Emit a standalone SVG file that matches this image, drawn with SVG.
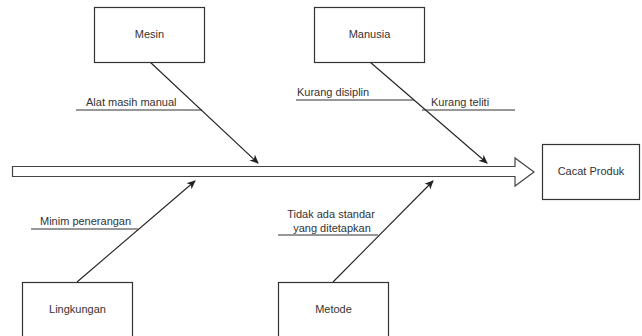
<svg xmlns="http://www.w3.org/2000/svg" width="642" height="336" viewBox="0 0 642 336">
<defs>
<marker id="ah" markerWidth="10" markerHeight="10" refX="8" refY="5" orient="auto" markerUnits="userSpaceOnUse">
<path d="M0,1 L9,5 L0,9 L2.5,5 Z" fill="#222"/>
</marker>
<style>
.box{fill:#fff;stroke:#333;stroke-width:1.2}
.t{font-family:"Liberation Sans",Arial,sans-serif;font-size:11px;fill:#333}
.c{text-anchor:middle}
.ln{stroke:#333;stroke-width:1.1;fill:none}
.ar{stroke:#222;stroke-width:1.1;fill:none;marker-end:url(#ah)}
</style>
</defs>
<rect width="642" height="336" fill="#fff"/>
<g id="spine">
<path d="M12.5,166.5 L515,166.5 L515,158 L534,172 L515,186 L515,176.5 L12.5,176.5 Z" fill="#fff" stroke="#444" stroke-width="1.2"/>
</g>
<g id="connectors">
<line class="ar" x1="150" y1="62" x2="258" y2="163"/>
<line class="ar" x1="370" y1="62" x2="487" y2="163"/>
<line class="ar" x1="77" y1="282" x2="195" y2="181"/>
<line class="ar" x1="333" y1="282" x2="433" y2="181"/>
</g>
<g id="causes">
<line class="ln" x1="76" y1="110" x2="202" y2="110"/>
<text class="t" x="86" y="106">Alat masih manual</text>
<line class="ln" x1="296" y1="100" x2="414" y2="100"/>
<text class="t" x="297" y="96">Kurang disiplin</text>
<line class="ln" x1="422" y1="110" x2="515" y2="110"/>
<text class="t" x="431" y="106">Kurang teliti</text>
<line class="ln" x1="31" y1="229" x2="138" y2="229"/>
<text class="t" x="40" y="225">Minim penerangan</text>
<line class="ln" x1="278" y1="235" x2="378" y2="235"/>
<text class="t c" x="331" y="218">Tidak ada standar</text>
<text class="t c" x="332" y="232">yang ditetapkan</text>
</g>
<g id="mesin">
<rect class="box" x="94.5" y="7.5" width="110" height="55"/>
<text class="t c" x="149.5" y="38">Mesin</text>
</g>
<g id="manusia">
<rect class="box" x="314.5" y="7.5" width="110" height="55"/>
<text class="t c" x="369.5" y="38">Manusia</text>
</g>
<g id="cacat-produk">
<rect class="box" x="542.5" y="144.5" width="97" height="55"/>
<text class="t c" x="591" y="175">Cacat Produk</text>
</g>
<g id="lingkungan">
<rect class="box" x="22.5" y="282.5" width="110" height="55"/>
<text class="t c" x="77.5" y="313">Lingkungan</text>
</g>
<g id="metode">
<rect class="box" x="278.5" y="282.5" width="110" height="55"/>
<text class="t c" x="333.5" y="313">Metode</text>
</g>
</svg>
